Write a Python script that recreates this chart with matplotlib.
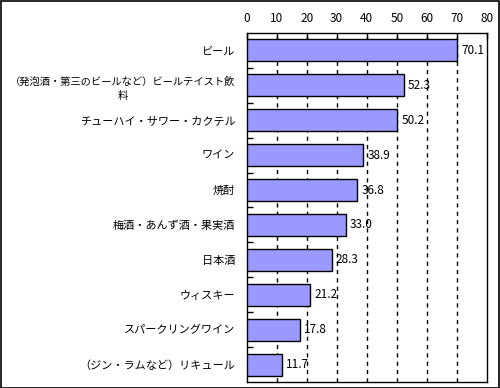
import matplotlib
matplotlib.use("Agg")
from matplotlib import pyplot as plt
from matplotlib.patches import Rectangle

plt.rcParams['font.family'] = ['Noto Sans CJK JP', 'DejaVu Sans']

categories = ["ビール",
              "（発泡酒・第三のビールなど）ビールテイスト飲\n料",
              "チューハイ・サワー・カクテル",
              "ワイン",
              "焼酎",
              "梅酒・あんず酒・果実酒",
              "日本酒",
              "ウィスキー",
              "スパークリングワイン",
              "（ジン・ラムなど）リキュール"]
values = [70.1, 52.3, 50.2, 38.9, 36.8, 33.0, 28.3, 21.2, 17.8, 11.7]
xticks = [0, 10, 20, 30, 40, 50, 60, 70, 80]

fig = plt.figure(figsize=(5, 3.88), dpi=100)
ax = fig.add_axes([0.493, 0.0155, 0.481, 0.8995])

n = len(categories)
ypos = list(range(n))
ax.barh(ypos, values, height=0.63, color="#9999FF", edgecolor="black",
        linewidth=1.0, zorder=3)
for y, v in zip(ypos, values):
    ax.annotate("%.1f" % v, (v, y), xytext=(3, 0), textcoords="offset points",
                va="center", ha="left", fontsize=8.5, zorder=4)

ax.set_xlim(0, 80)
ax.set_ylim(n - 0.5, -0.5)
ax.set_xticks(xticks)
ax.xaxis.tick_top()
ax.tick_params(axis="x", direction="in", length=4, pad=6, labelsize=8.5, width=1)
ax.set_yticks(ypos)
ax.set_yticklabels(categories, fontsize=8)
for lbl in ax.get_yticklabels():
    lbl.set_multialignment("center")
    if "\n" in lbl.get_text():
        lbl.set_fontsize(7.4)
        lbl.set_linespacing(1.6)
ax.tick_params(axis="y", length=0, pad=8)
ax.set_yticks([i + 0.5 for i in range(n - 1)], minor=True)
ax.tick_params(axis="y", which="minor", direction="in", length=4, width=1)

for x in xticks[1:-1]:
    ax.axvline(x, color="black", linestyle=(0, (3, 3)), linewidth=1, zorder=1)

for s in ax.spines.values():
    s.set_linewidth(1)
    s.set_color("black")

fig.add_artist(Rectangle((0.001, 0.001), 0.997, 0.997, transform=fig.transFigure,
                         fill=False, edgecolor="black", linewidth=1.2))

fig.savefig("out.png", dpi=100)
